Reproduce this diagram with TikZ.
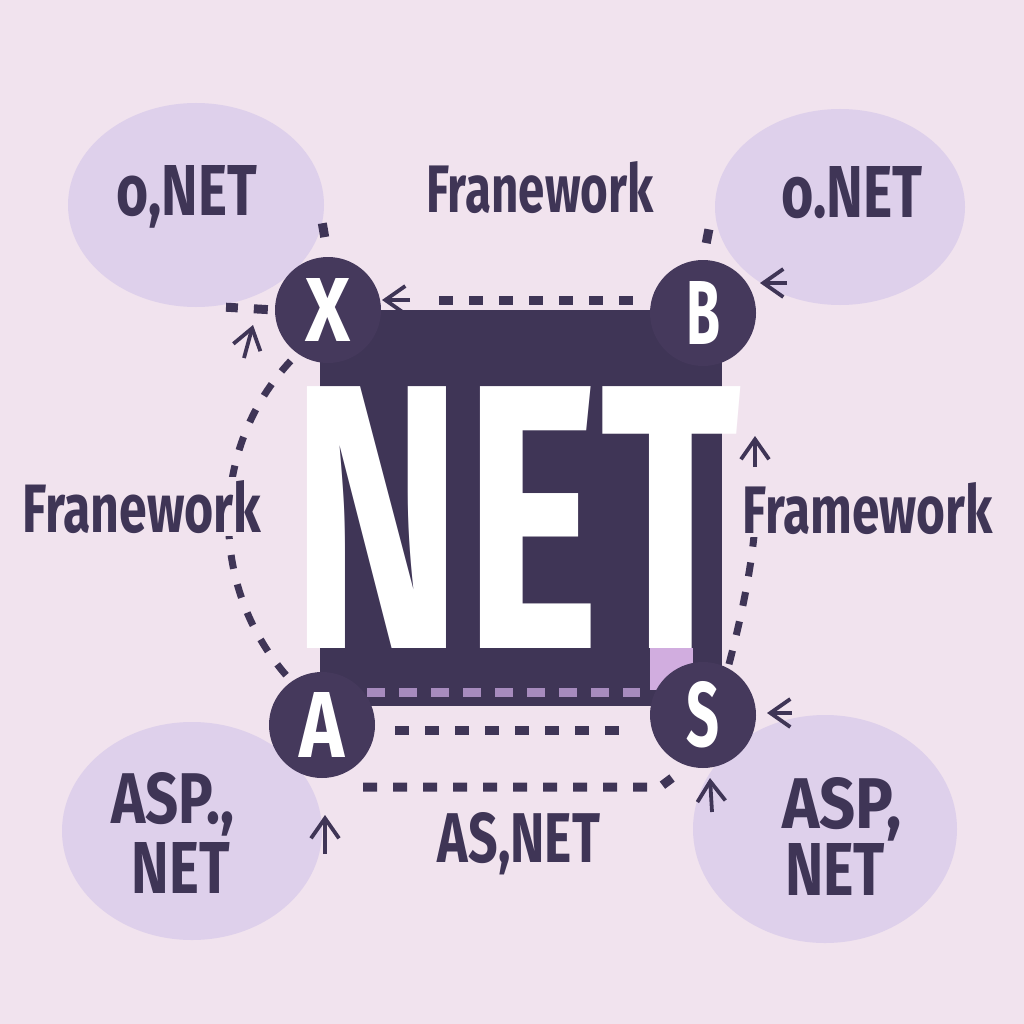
\documentclass[tikz,border=0pt]{standalone}
\usepackage{fontspec}
\setmainfont{Fira Sans}
\usepackage{graphicx}
\usetikzlibrary{positioning,shapes,shapes.geometric,arrows.meta}
\usetikzlibrary{backgrounds}
\definecolor{paper}{HTML}{F1E3EE}
\definecolor{ink}{HTML}{3F3556}
\definecolor{hubcol}{HTML}{45395C}
\definecolor{lilac}{HTML}{DED0EB}
\definecolor{lilacdash}{HTML}{A78BBE}
\definecolor{glowcol}{HTML}{D1ADDF}

\begin{document}
\begin{tikzpicture}[x=1pt,y=-1pt,node distance=0pt,
	panel/.style={rectangle,fill=ink,minimum width=402pt,minimum height=396pt,inner sep=0pt},
	hub/.style={circle,fill=hubcol,minimum size=106pt,inner sep=0pt,text=white,font=\bfseries},
	bubble/.style={ellipse,fill=lilac,inner sep=0pt},
	word/.style={inner sep=0pt,text=ink,font=\bfseries},
	link/.style={draw=ink,line width=9pt,dash pattern=on 14pt off 16pt},
	softlink/.style={draw=lilacdash,line width=9pt,dash pattern=on 18pt off 14pt},
	tip/.style={draw=ink,line width=3.8pt,-{Straight Barb[length=20pt,width=28pt]}}]
	\begin{scope}[on background layer]
	\fill[paper] (0,0) rectangle (1024,1024);
	\fill (521,508) node[panel] (box) {};
	\end{scope}
	\useasboundingbox (0,0) rectangle (1024,1024);
	%
	\fill (0,0) node[hub,left of=box,xshift=-193pt,yshift=198pt] (X) {\resizebox{45pt}{63pt}{X}};
	\fill (0,0) node[hub,right of=X,xshift=375pt,yshift=-3pt] (B) {\resizebox{34pt}{63pt}{B}};
	\fill (0,0) node[hub,below of=X,xshift=-6pt,yshift=-415pt] (A) {\resizebox{45pt}{65pt}{A}};
	\fill (0,0) node[hub,right of=A,xshift=381pt,yshift=10pt] (S) {\resizebox{33pt}{65pt}{S}};
	%
	\begin{scope}[on background layer]
	\fill (0,0) node[bubble,minimum width=256pt,minimum height=204pt,left of=X,xshift=-132pt,yshift=105pt] (tl) {};
	\fill (0,0) node[bubble,minimum width=250pt,minimum height=196pt,right of=B,xshift=137pt,yshift=106pt] (tr) {};
	\fill (0,0) node[bubble,minimum width=260pt,minimum height=218pt,left of=A,xshift=-130pt,yshift=-106pt] (bl) {};
	\fill (0,0) node[bubble,minimum width=264pt,minimum height=228pt,right of=S,xshift=122pt,yshift=-114pt] (br) {};
	\fill (0,0) node[rectangle,fill=glowcol,minimum width=43pt,minimum height=42pt,inner sep=0pt,right of=box,xshift=150pt,yshift=-161pt] (glow) {};
	%
	\draw[softlink,shorten <=45pt,shorten >=63pt] ([yshift=33pt]A.center) -- ([yshift=23pt]S.center);
	\draw[link,shorten <=17pt,shorten >=46pt] ([yshift=13pt]B.west) -- ([yshift=10pt]X.east);
	\draw[link,shorten <=73pt,shorten >=76pt] ([yshift=-5pt]A.center) -- ([yshift=-15pt]S.center);
	\draw[link] ([shift={(41pt,-62pt)}]A.center) -- ([shift={(-43pt,-72pt)}]S.center) -- ([shift={(-31pt,-63pt)}]S.center);
	\draw[link,line width=7pt,shorten <=10pt,shorten >=8pt] (X.235) to[bend right=42] (A.125);
	\draw[link,line width=7pt,shorten <=4pt,shorten >=48pt] (S.62) to[bend right=8] ([shift={(52pt,-123pt)}]B.center);
	\draw[link,shorten <=7pt] (X.west) -- ([xshift=30pt]tl.south);
	\draw[link,shorten <=20pt] (X.north) -- (tl.-8);
	\draw[link,shorten <=17pt] (B.north) -- ([shift={(6pt,31pt)}]B.north);
	\end{scope}
	%
	\fill (0,0) node[word,text=white,right of=box,xshift=-5pt,yshift=-140pt,anchor=base] (bigword) {\resizebox{450pt}{261pt}{NET}};
	%
	\fill (0,0) node[word,right of=tl,xshift=-9pt,yshift=-10pt,anchor=base] (tlword) {\resizebox{140pt}{50pt}{o,NET}};
	\fill (0,0) node[word,right of=tr,xshift=12pt,yshift=-11pt,anchor=base] (trword) {\resizebox{141pt}{51pt}{o.NET}};
	\fill (0,0) node[word,right of=X,xshift=212pt,yshift=97pt,anchor=base] (topword) {\resizebox{227pt}{51pt}{Franework}};
	\fill (0,0) node[word,fill=paper,inner sep=3pt,below of=tl,xshift=-54pt,yshift=-327pt,anchor=base] (leftword) {\resizebox{239pt}{52pt}{Franework}};
	\fill (0,0) node[word,fill=paper,inner sep=3pt,below of=tr,xshift=28pt,yshift=-326pt,anchor=base] (rightword) {\resizebox{250pt}{51pt}{Framework}};
	\fill (0,0) node[word,right of=A,xshift=197pt,yshift=-137pt,anchor=base] (bottomword) {\resizebox{162pt}{50pt}{AS,NET}};
	\fill (0,0) node[word,left of=bl,xshift=-19pt,yshift=8pt,anchor=base] (bl1) {\resizebox{123pt}{51pt}{ASP.,}};
	\fill (0,0) node[word,below of=bl,xshift=-11pt,yshift=-62pt,anchor=base] (bl2) {\resizebox{98pt}{51pt}{NET}};
	\fill (0,0) node[word,right of=br,xshift=17pt,yshift=1pt,anchor=base] (br1) {\resizebox{119pt}{51pt}{ASP,}};
	\fill (0,0) node[word,below of=br,xshift=10pt,yshift=-66pt,anchor=base] (br2) {\resizebox{100pt}{52pt}{NET}};
	%
	\draw[tip] ([shift={(82pt,10pt)}]X.center) -- ([shift={(54pt,10pt)}]X.center);
	\draw[tip] ([shift={(-84pt,-48pt)}]X.center) -- ([shift={(-75pt,-15pt)}]X.center);
	\draw[tip] ([shift={(84pt,30pt)}]B.center) -- ([shift={(57pt,30pt)}]B.center);
	\draw[tip] ([shift={(52pt,-154pt)}]B.center) -- ([shift={(52pt,-123pt)}]B.center);
	\draw[tip] ([shift={(89pt,2pt)}]S.center) -- ([shift={(64pt,2pt)}]S.center);
	\draw[tip] ([shift={(9pt,-97pt)}]S.center) -- ([shift={(7pt,-63pt)}]S.center);
	\draw[tip] ([shift={(3pt,-129pt)}]A.center) -- ([shift={(3pt,-90pt)}]A.center);
\end{tikzpicture}
\end{document}
